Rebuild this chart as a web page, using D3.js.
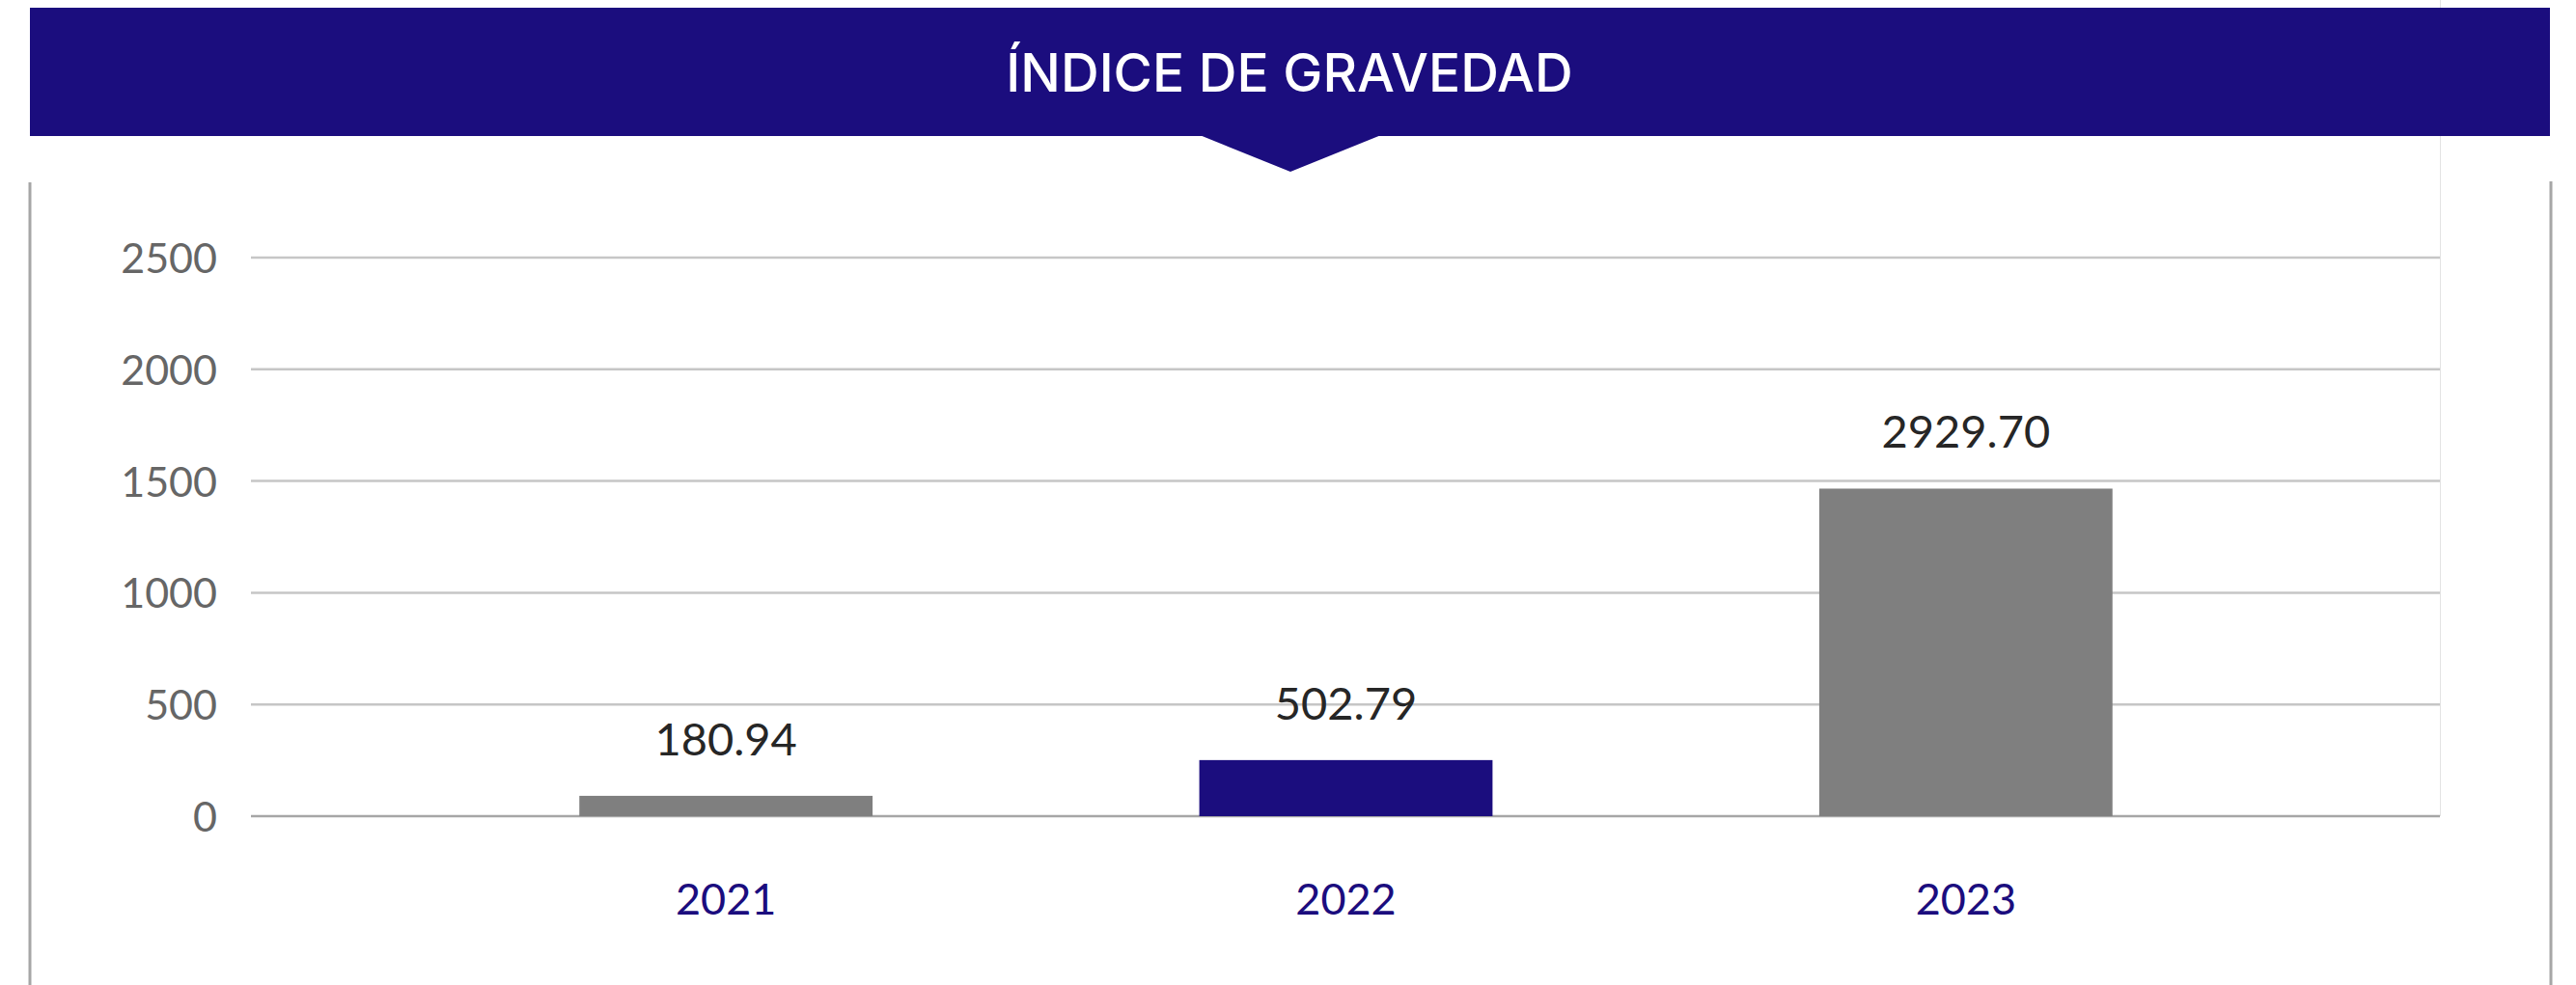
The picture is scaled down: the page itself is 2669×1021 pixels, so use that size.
<!DOCTYPE html>
<html>
<head>
<meta charset="utf-8">
<script src="https://cdn.jsdelivr.net/npm/d3@7"></script>
<style>
  body { margin: 0; background: #fff; }
  svg { display: block; }
</style>
</head>
<body>
<svg id="chart" width="2669" height="1021"></svg>
<script>
// data
var years = ["2021", "2022", "2023"];
var labelValues = ["180.94", "502.79", "2929.70"];   // printed labels
var barValues = [91, 251, 1466];                     // bar heights as drawn
var barColors = ["#7f7f7f", "#1b0d7e", "#7f7f7f"];
var yTicks = [0, 500, 1000, 1500, 2000, 2500];
var title = "ÍNDICE DE GRAVEDAD";

var width = 2669, height = 1021;
var navy = "#1b0d7e";

var svg = d3.select("#chart");

// frame borders
svg.append("line").attr("x1", 31).attr("x2", 31).attr("y1", 189).attr("y2", height)
  .attr("stroke", "#a6a6a6").attr("stroke-width", 3);
svg.append("line").attr("x1", 2643).attr("x2", 2643).attr("y1", 188).attr("y2", height)
  .attr("stroke", "#a6a6a6").attr("stroke-width", 3);
// faint plot border on the right
svg.append("line").attr("x1", 2528.5).attr("x2", 2528.5).attr("y1", 0).attr("y2", 846)
  .attr("stroke", "#e3e3e3").attr("stroke-width", 1);

// banner
svg.append("rect").attr("x", 31).attr("y", 8).attr("width", 2611).attr("height", 133).attr("fill", navy);
svg.append("path").attr("d", "M1243,140 L1337,178 L1431,140 Z").attr("fill", navy);
svg.append("text")
  .attr("x", 1336).attr("y", 95)
  .attr("text-anchor", "middle")
  .attr("fill", "#fff")
  .style("font-family", "Inter, 'Open Sans', sans-serif")
  .style("font-weight", 500)
  .style("font-size", "55px")
  .text(title);

var y = d3.scaleLinear().domain([0, 2500]).range([846, 267]);
var x = d3.scaleBand().domain(years).range([431, 2358]).paddingInner(0.527).paddingOuter(0.2635);

// gridlines
svg.append("g").selectAll("line")
  .data(yTicks)
  .enter().append("line")
  .attr("x1", 260).attr("x2", 2528)
  .attr("y1", function(d) { return y(d); })
  .attr("y2", function(d) { return y(d); })
  .attr("stroke", function(d) { return d === 0 ? "#a6a6a6" : "#c6c6c6"; })
  .attr("stroke-width", 2.5);

// y axis labels
var yAxis = svg.append("g")
  .attr("transform", "translate(225,0)")
  .call(d3.axisLeft(y).tickValues(yTicks).tickSize(0).tickPadding(0).tickFormat(d3.format("d")));
yAxis.select(".domain").remove();
yAxis.selectAll("text")
  .attr("fill", "#666")
  .attr("dy", "0.36em")
  .style("font-family", "Lato, sans-serif")
  .style("font-size", "43px");

// bars
var bar = svg.append("g").selectAll("g")
  .data(years)
  .enter().append("g");

bar.append("rect")
  .attr("x", function(d) { return x(d); })
  .attr("width", x.bandwidth())
  .attr("y", function(d, i) { return y(barValues[i]); })
  .attr("height", function(d, i) { return y(0) - y(barValues[i]); })
  .attr("fill", function(d, i) { return barColors[i]; });

bar.append("text")
  .attr("x", function(d) { return x(d) + x.bandwidth() / 2; })
  .attr("y", function(d, i) { return y(barValues[i]) - 42; })
  .attr("text-anchor", "middle")
  .attr("fill", "#262626")
  .style("font-family", "Lato, sans-serif")
  .style("font-size", "47px")
  .text(function(d, i) { return labelValues[i]; });

// x axis labels
var xAxis = svg.append("g")
  .attr("transform", "translate(0,948)")
  .call(d3.axisBottom(x).tickSize(0).tickPadding(0));
xAxis.select(".domain").remove();
xAxis.selectAll("text")
  .attr("dy", 0)
  .attr("fill", navy)
  .style("font-family", "Lato, sans-serif")
  .style("font-size", "45px");
</script>
</body>
</html>
